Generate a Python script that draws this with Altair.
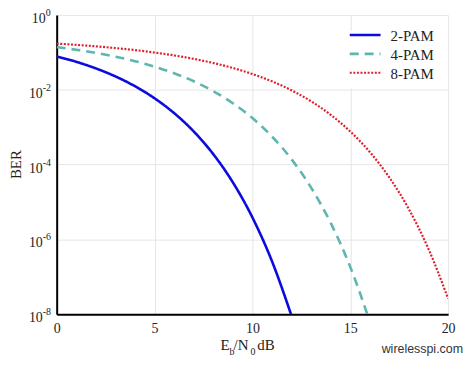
import altair as alt
import pandas as pd

# ---- data ----
series_names = ["2-PAM", "4-PAM", "8-PAM"]
ebn0_2 = list(range(0, 13))
ber_2 = [7.86e-2, 5.63e-2, 3.75e-2, 2.29e-2, 1.25e-2, 5.95e-3, 2.39e-3, 7.73e-4,
         1.91e-4, 3.36e-5, 3.87e-6, 2.61e-7, 9.0e-9]
ebn0_4 = list(range(0, 17))
ber_4 = [0.139, 0.118, 0.0976, 0.0775, 0.0586, 0.0419, 0.0278, 0.0170, 0.00924,
         0.00439, 0.00176, 5.64e-4, 1.39e-4, 2.42e-5, 2.76e-6, 1.84e-7, 6.3e-9]
ebn0_8 = list(range(0, 21))
ber_8 = [0.173, 0.160, 0.146, 0.131, 0.116, 0.0997, 0.0835, 0.0675, 0.0523, 0.0385,
         0.0265, 0.0169, 0.00972, 0.00494, 0.00215, 7.70e-4, 2.17e-4, 4.50e-5,
         6.36e-6, 5.5e-7, 2.6e-8]
x_ticks = [0, 5, 10, 15, 20]
y_ticks = [1, 1e-2, 1e-4, 1e-6, 1e-8]
y_exps = ["0", "-2", "-4", "-6", "-8"]

# ---- styles ----
colors = ["#0b0be0", "#5fb6b0", "#e0202c"]
dashes = [[1, 0], [9, 6], [2, 1.6]]
widths = [2.6, 2.6, 2.2]
SERIF = "Liberation Serif"

xs = [ebn0_2, ebn0_4, ebn0_8]
ys = [ber_2, ber_4, ber_8]

xscale = alt.Scale(domain=[0, 20], nice=False)
yscale = alt.Scale(type="log", domain=[1e-8, 1], nice=False)

xaxis = alt.Axis(values=x_ticks, title=None, grid=True, gridColor="#e6e6e6",
                 domainColor="black", domainWidth=2, ticks=False,
                 labelFont=SERIF, labelFontSize=14, labelColor="#222",
                 labelPadding=7, labelFlush=False)
yaxis = alt.Axis(values=y_ticks, labels=False, ticks=False, grid=True,
                 gridColor="#e6e6e6", domainColor="black", domainWidth=2,
                 title="BER", titleFont=SERIF, titleFontSize=15,
                 titleFontWeight="normal", titleColor="#222", titleX=-41,
                 titleY=150, titleAngle=270, titleAlign="center",
                 titleBaseline="middle")

lines_df = pd.concat([
    pd.DataFrame({"series": series_names[i], "x": xs[i], "ber": ys[i]})
    for i in range(len(series_names))
], ignore_index=True)

layers = []
for i, name in enumerate(series_names):
    layers.append(
        alt.Chart(lines_df).transform_filter(alt.datum.series == name)
        .mark_line(color=colors[i], strokeDash=dashes[i], strokeWidth=widths[i],
                   clip=True, interpolate="monotone")
        .encode(x=alt.X("x:Q", scale=xscale, axis=xaxis),
                y=alt.Y("ber:Q", scale=yscale, axis=yaxis))
    )

# y tick labels 10^n
tick_df = pd.DataFrame({"v": y_ticks, "e": y_exps})
for cond, xpos in [("datum.e == '0'", -11), ("datum.e != '0'", -14)]:
    base = alt.Chart(tick_df).transform_filter(cond)
    layers.append(base.mark_text(text="10", align="right", baseline="alphabetic",
                                 dy=8, font=SERIF, fontSize=14, color="#222")
                  .encode(x=alt.value(xpos), y=alt.Y("v:Q", scale=yscale, axis=yaxis)))
    layers.append(base.mark_text(align="left", baseline="alphabetic", dy=1,
                                 font=SERIF, fontSize=10, color="#222")
                  .encode(x=alt.value(xpos), y=alt.Y("v:Q", scale=yscale, axis=yaxis),
                          text="e:N"))

one = pd.DataFrame({"k": [0]})

# x title: E_b/N_0 dB
segs = [("E", 165, 337, 15), ("b", 174, 342, 10), ("/N", 178, 337, 15),
        ("0", 195, 342, 10), ("dB", 202, 337, 15)]
for t, px, py, fs in segs:
    layers.append(alt.Chart(one).mark_text(text=t, align="left", baseline="alphabetic",
                                           font=SERIF, fontSize=fs, color="#222")
                  .encode(x=alt.value(px), y=alt.value(py)))

# legend
layers.append(alt.Chart(one).mark_rect(color="white")
              .encode(x=alt.value(292), x2=alt.value(388),
                      y=alt.value(16), y2=alt.value(74)))
for i, name in enumerate(series_names):
    ly = 20 + 19 * i
    layers.append(alt.Chart(one).mark_rule(color=colors[i], strokeDash=dashes[i],
                                           strokeWidth=widths[i])
                  .encode(x=alt.value(295), x2=alt.value(326), y=alt.value(ly)))
    layers.append(alt.Chart(one).mark_text(text=name, align="left", baseline="middle",
                                           font=SERIF, fontSize=15, color="#222", dy=1)
                  .encode(x=alt.value(336), y=alt.value(ly)))

# watermark
layers.append(alt.Chart(one).mark_text(text="wirelesspi.com", align="right",
                                       baseline="alphabetic", font="Liberation Sans",
                                       fontSize=12.5, color="#333")
              .encode(x=alt.value(409), y=alt.value(340)))

chart = alt.layer(*layers).properties(
    width=394, height=301,
    autosize=alt.AutoSizeParams(type="none"),
    padding={"left": 49, "top": 6, "right": 18, "bottom": 42},
).configure_view(stroke=None)

chart.save("out.html", embed_options={"renderer": "svg", "actions": False})
